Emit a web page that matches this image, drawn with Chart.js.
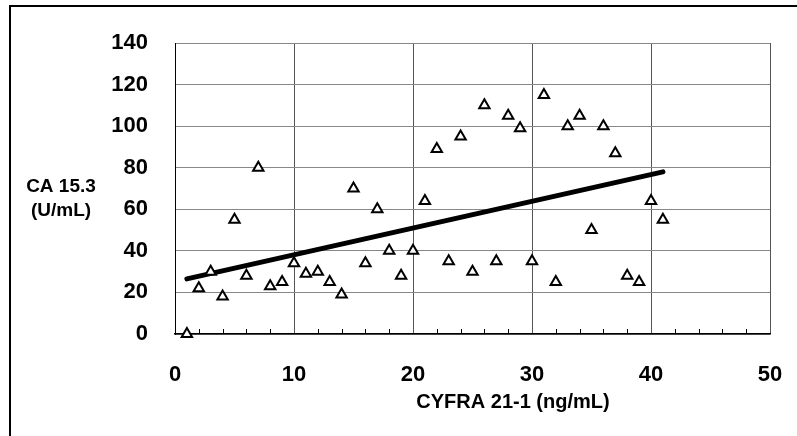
<!DOCTYPE html>
<html>
<head>
<meta charset="utf-8">
<script src="https://cdn.jsdelivr.net/npm/chart.js@4.4.1/dist/chart.umd.min.js"></script>
<style>
  html, body { margin: 0; padding: 0; background: #fff; }
  #wrap { position: relative; width: 797px; height: 436px; }
</style>
</head>
<body>
<div id="wrap"><canvas id="chart" width="797" height="436"></canvas></div>
<script>
// CYFRA 21-1 (x) vs CA 15.3 (y)
const cyfra = [1, 2, 3, 4, 5, 6, 7, 8, 9, 10, 11, 12, 13, 14, 15, 16, 17, 18, 19, 20, 21,
  22, 23, 24, 25, 26, 27, 28, 29, 30, 31, 32, 33, 34, 35, 36, 37, 38, 39, 40, 41];
const ca153 = [0, 22, 30, 18, 55, 28, 80, 23, 25, 34, 29, 30, 25, 19, 70, 34, 60, 40, 28, 40, 64,
  89, 35, 95, 30, 110, 35, 105, 99, 35, 115, 25, 100, 105, 50, 100, 87, 28, 25, 64, 55];

// regression line end points
const trendX = [1, 41];
const trendY = [26.5, 78];

const xTicks = [0, 10, 20, 30, 40, 50];
const yTicks = [0, 20, 40, 60, 80, 100, 120, 140];

const FONT = 'Arial, "Liberation Sans", sans-serif';

// frame, axis titles and small inward ticks
const extras = {
  id: 'extras',
  afterDraw(chart) {
    const ctx = chart.ctx;
    const x = chart.scales.x;
    const area = chart.chartArea;
    ctx.save();
    // outer frame (top + left only)
    ctx.strokeStyle = '#000';
    ctx.lineWidth = 2;
    ctx.beginPath();
    ctx.moveTo(797, 6);
    ctx.lineTo(10, 6);
    ctx.lineTo(10, 436);
    ctx.stroke();

    // minor ticks on x axis
    ctx.lineWidth = 1;
    ctx.strokeStyle = '#000';
    for (let v = 2; v < 50; v += 2) {
      if (v % 10 === 0) continue;
      const px = Math.round(x.getPixelForValue(v)) + 0.5;
      ctx.beginPath();
      ctx.moveTo(px, area.bottom);
      ctx.lineTo(px, area.bottom - 5);
      ctx.stroke();
    }

    ctx.fillStyle = '#000';
    ctx.textAlign = 'center';
    ctx.textBaseline = 'alphabetic';
    ctx.font = 'bold 20px ' + FONT;
    ctx.fillText('CYFRA 21-1 (ng/mL)', 513, 408);
    ctx.font = 'bold 19px ' + FONT;
    ctx.fillText('CA 15.3', 61, 192);
    ctx.fillText('(U/mL)', 61, 216);
    ctx.restore();
  }
};

function noEdgePadding(s) {
  s.paddingLeft = 0;
  s.paddingRight = 0;
  s.paddingTop = 0;
  s.paddingBottom = 0;
}

new Chart(document.getElementById('chart'), {
  type: 'scatter',
  data: {
    datasets: [
      {
        label: 'CA 15.3',
        data: cyfra.map((v, i) => ({ x: v, y: ca153[i] })),
        pointStyle: 'triangle',
        pointRadius: 6,
        pointHoverRadius: 6,
        pointBorderWidth: 2,
        pointBorderColor: '#000',
        pointBackgroundColor: '#fff',
        showLine: false,
        clip: false
      },
      {
        type: 'line',
        label: 'trend',
        data: trendX.map((v, i) => ({ x: v, y: trendY[i] })),
        borderColor: '#000',
        borderWidth: 5,
        borderCapStyle: 'round',
        pointRadius: 0,
        fill: false
      }
    ]
  },
  options: {
    responsive: false,
    animation: false,
    events: [],
    layout: { padding: { top: 43, right: 27, left: 0, bottom: 0 } },
    plugins: { legend: { display: false }, tooltip: { enabled: false } },
    scales: {
      x: {
        type: 'linear',
        min: 0,
        max: 50,
        afterFit(s) { s.height = 102; noEdgePadding(s); },
        afterBuildTicks(s) { s.ticks = xTicks.map(v => ({ value: v })); },
        ticks: {
          padding: 28,
          color: '#000',
          font: { family: FONT, size: 22, weight: 'bold' }
        },
        grid: {
          drawTicks: false,
          color: '#555',
          lineWidth: 1
        },
        border: { color: '#000', width: 1.5 }
      },
      y: {
        min: 0,
        max: 140,
        afterFit(s) { s.width = 175; noEdgePadding(s); },
        afterBuildTicks(s) { s.ticks = yTicks.map(v => ({ value: v })); },
        ticks: {
          padding: 27,
          color: '#000',
          font: { family: FONT, size: 22, weight: 'bold' }
        },
        grid: {
          drawTicks: false,
          color: '#888',
          lineWidth: 1
        },
        border: { color: '#000', width: 1 }
      }
    }
  },
  plugins: [extras]
});
</script>
</body>
</html>
